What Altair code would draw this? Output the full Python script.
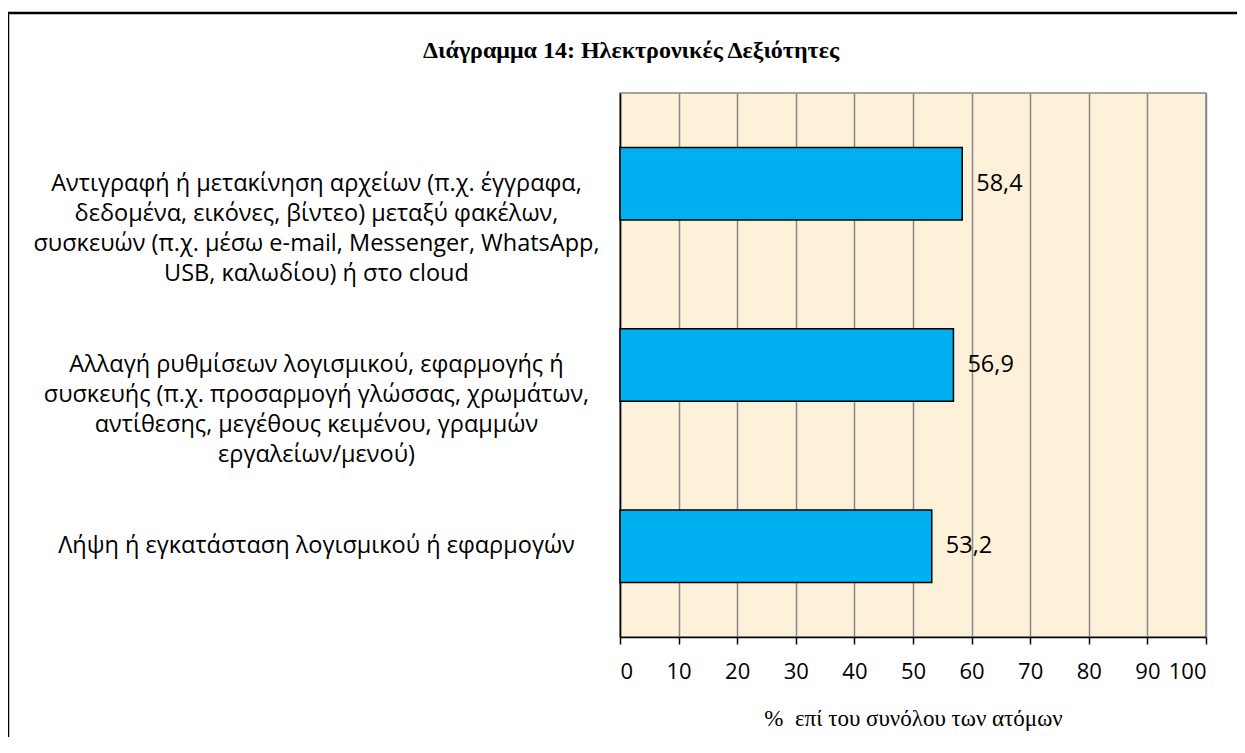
import altair as alt
import pandas as pd

categories = [
    "Αντιγραφή ή μετακίνηση αρχείων (π.χ. έγγραφα,|δεδομένα, εικόνες, βίντεο) μεταξύ φακέλων,|συσκευών (π.χ. μέσω e-mail, Messenger, WhatsApp,|USB, καλωδίου) ή στο cloud",
    "Αλλαγή ρυθμίσεων λογισμικού, εφαρμογής ή|συσκευής (π.χ. προσαρμογή γλώσσας, χρωμάτων,|αντίθεσης, μεγέθους κειμένου, γραμμών|εργαλείων/μενού)",
    "Λήψη ή εγκατάσταση λογισμικού ή εφαρμογών",
]
values = [58.4, 56.9, 53.2]
x_ticks = [0, 10, 20, 30, 40, 50, 60, 70, 80, 90, 100]

df = pd.DataFrame({"cat": categories, "val": values})
df["lbl"] = [f"{v:.1f}".replace(".", ",") for v in values]

LABEL_FONT = "Open Sans"
SERIF = "Liberation Serif"

y_enc = alt.Y(
    "cat:N",
    sort=None,
    title=None,
    scale=alt.Scale(paddingInner=0.6, paddingOuter=0.3),
    axis=alt.Axis(
        labelExpr="split(datum.label, '|')",
        labelAlign="center",
        labelBaseline="middle",
        labelPadding=304,
        labelLineHeight=30,
        labelFont=LABEL_FONT,
        labelFontSize=23.5,
        labelColor="black",
        labelLimit=0,
        ticks=False,
        domain=True,
        domainColor="black",
        domainWidth=1.5,
        grid=False,
    ),
)

x_enc = alt.X(
    "val:Q",
    scale=alt.Scale(domain=[0, 100], nice=False),
    axis=alt.Axis(
        values=x_ticks,
        title="%\u00a0\u00a0επί του συνόλου των ατόμων",
        titleFont=SERIF,
        titleFontSize=23,
        titleFontWeight="normal",
        titleColor="black",
        titlePadding=25,
        labelFont=LABEL_FONT,
        labelFontSize=22,
        labelColor="black",
        labelPadding=17,
        tickSize=7,
        tickColor="black",
        tickWidth=1.5,
        domainColor="black",
        domainWidth=1.5,
        grid=True,
        gridColor="#888888",
        gridWidth=1.5,
    ),
)

frame = alt.Chart(pd.DataFrame({"k": [0]})).mark_rect(
    fill=None, stroke="black", strokeWidth=2.5
).encode(
    x=alt.value(-612), x2=alt.value(700), y=alt.value(-80), y2=alt.value(720)
)

bars = alt.Chart(df).mark_bar(
    color="#00B0F0", stroke="black", strokeWidth=1.5
).encode(x=x_enc, y=y_enc)

texts = alt.Chart(df).mark_text(
    align="left", baseline="middle", dx=14, font=LABEL_FONT, fontSize=23.5, color="black"
).encode(x="val:Q", y=alt.Y("cat:N", sort=None), text="lbl:N")

chart = alt.layer(bars, texts, frame).properties(
    width=586,
    height=544,
    title=alt.TitleParams(
        "Διάγραμμα 14: Ηλεκτρονικές Δεξιότητες",
        font=SERIF,
        fontSize=24,
        fontWeight="bold",
        color="black",
        anchor="middle",
        dx=-282,
        dy=79,
        offset=28,
    ),
    padding={"left": 612, "top": 85, "right": 31, "bottom": 100},
    autosize=alt.AutoSizeParams(type="none"),
    background="white",
).configure_view(
    fill="#FDF1DA", stroke="#888888", strokeWidth=1.5
)

chart.save("out.html", embed_options={"renderer": "svg", "actions": False})
